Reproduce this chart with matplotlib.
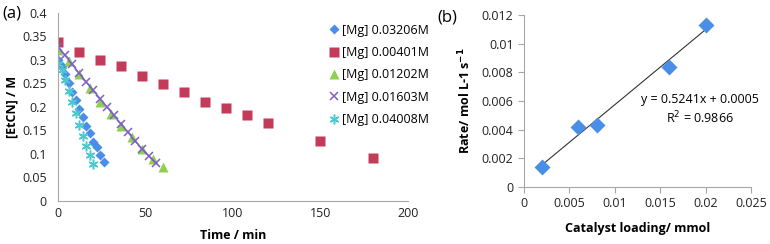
import matplotlib.pyplot as plt
import numpy as np

plt.rcParams['font.family'] = ['Open Sans', 'DejaVu Sans']

# (a) concentration vs time for several catalyst loadings
t_mg1 = [0, 2, 4, 6, 8, 10, 12, 14, 16, 18, 20, 22, 24, 26]
c_mg1 = [0.300, 0.287, 0.271, 0.252, 0.231, 0.215, 0.195, 0.178, 0.160, 0.144, 0.126, 0.114, 0.098, 0.082]

t_mg2 = [0, 12, 24, 36, 48, 60, 72, 84, 96, 108, 120, 150, 180]
c_mg2 = [0.338, 0.318, 0.300, 0.287, 0.267, 0.250, 0.231, 0.211, 0.198, 0.182, 0.165, 0.127, 0.092]

t_mg3 = [0, 6, 12, 18, 24, 30, 36, 42, 48, 54, 60]
c_mg3 = [0.322, 0.298, 0.270, 0.241, 0.211, 0.185, 0.159, 0.136, 0.111, 0.090, 0.073]

t_mg4 = [0, 4, 8, 12, 16, 20, 24, 28, 32, 36, 40, 44, 48, 52, 56]
c_mg4 = [0.328, 0.310, 0.291, 0.272, 0.254, 0.236, 0.218, 0.200, 0.182, 0.164, 0.146, 0.128, 0.111, 0.095, 0.080]

t_mg5 = [0, 2, 4, 6, 8, 10, 12, 14, 16, 18, 20]
c_mg5 = [0.292, 0.278, 0.257, 0.235, 0.211, 0.188, 0.161, 0.139, 0.117, 0.097, 0.078]

labels = ['[Mg] 0.03206M', '[Mg] 0.00401M', '[Mg] 0.01202M', '[Mg] 0.01603M', '[Mg] 0.04008M']

# (b) rate vs catalyst loading
loading = [0.002, 0.006, 0.008, 0.016, 0.02]
rate = [0.0014, 0.0042, 0.0043, 0.0084, 0.0113]
slope, intercept = 0.5241, 0.0005

grey = '#a6a6a6'
fig = plt.figure(figsize=(7.7, 2.44), dpi=100)

ax = fig.add_axes([58/770, 1-201/244, 350/770, 188/244])
ax.plot(t_mg1, c_mg1, 'D', color='#4a8fe7', ms=5, mec='none', label=labels[0])
ax.plot(t_mg2, c_mg2, 's', color='#c43b5a', ms=7.5, mec='none', label=labels[1])
ax.plot(t_mg3, c_mg3, '^', color='#8fd14f', ms=7, mec='none', label=labels[2])
ax.plot(t_mg4, c_mg4, 'x-', color='#7f60c8', ms=6, mew=1.1, lw=1.0)
ax.plot(t_mg5, c_mg5, marker=(6, 2, 0), ls='none', color='#4cc8cf', ms=7, mew=1.1, label=labels[4])
ax.set_xlim(0, 200)
ax.set_ylim(0, 0.4)
ax.set_xticks([0, 50, 100, 150, 200])
ax.set_yticks(np.arange(0, 0.401, 0.05))
ax.set_yticklabels(['0', '0.05', '0.1', '0.15', '0.2', '0.25', '0.3', '0.35', '0.4'])
ax.tick_params(length=0, labelsize=9, colors='#222222', pad=8)
ax.tick_params(axis='x', pad=4)
for s in ['top', 'right']:
    ax.spines[s].set_visible(False)
for s in ['left', 'bottom']:
    ax.spines[s].set_color(grey)
ax.set_xlabel('Time / min', fontsize=9, fontweight='bold', labelpad=7)
ax.set_ylabel('[EtCN] / M', fontsize=9, fontweight='bold', labelpad=3)

# legend: purple entry without the connecting line, in the original order
proxy = plt.Line2D([], [], marker='x', ls='none', color='#7f60c8', ms=6, mew=1.1)
h, l = ax.get_legend_handles_labels()
h.insert(3, proxy)
l.insert(3, labels[3])
ax.legend(h, l, frameon=False, fontsize=9, loc='upper left', bbox_to_anchor=(0.765, 0.97),
          handlelength=0.6, handletextpad=0.3, labelspacing=0.75, borderaxespad=0)
fig.text(2/770, 1-14/244, '(a)', fontsize=12, va='center')

bx = fig.add_axes([524/770, 1-187/244, 227/770, 172/244])
bx.plot(loading, rate, 'D', color='#4a8fe7', ms=8, mec='none', zorder=3)
xf = np.array([loading[0], loading[-1]])
bx.plot(xf, slope*xf + intercept, color='#333333', lw=0.8)
bx.set_xlim(0, 0.025)
bx.set_ylim(0, 0.012)
bx.set_xticks([0, 0.005, 0.01, 0.015, 0.02, 0.025])
bx.set_xticklabels(['0', '0.005', '0.01', '0.015', '0.02', '0.025'])
bx.set_yticks([0, 0.002, 0.004, 0.006, 0.008, 0.01, 0.012])
bx.set_yticklabels(['0', '0.002', '0.004', '0.006', '0.008', '0.01', '0.012'])
bx.tick_params(labelsize=9, colors='#222222', length=4, color=grey)
for s in ['top', 'right']:
    bx.spines[s].set_visible(False)
for s in ['left', 'bottom']:
    bx.spines[s].set_color(grey)
bx.set_xlabel('Catalyst loading/ mmol', fontsize=9, fontweight='bold', labelpad=8)
bx.set_ylabel('Rate/ mol L-1 s$^{\\mathbf{-1}}$', fontsize=9, fontweight='bold', labelpad=6)
bx.text(0.0194, 0.00607, 'y = 0.5241x + 0.0005', fontsize=9, ha='center', va='center')
bx.text(0.0194, 0.00481, 'R$^2$ = 0.9866', fontsize=9, ha='center', va='center')
fig.text(437/770, 1-17/244, '(b)', fontsize=12, va='center')

fig.savefig('out.png', dpi=100)
